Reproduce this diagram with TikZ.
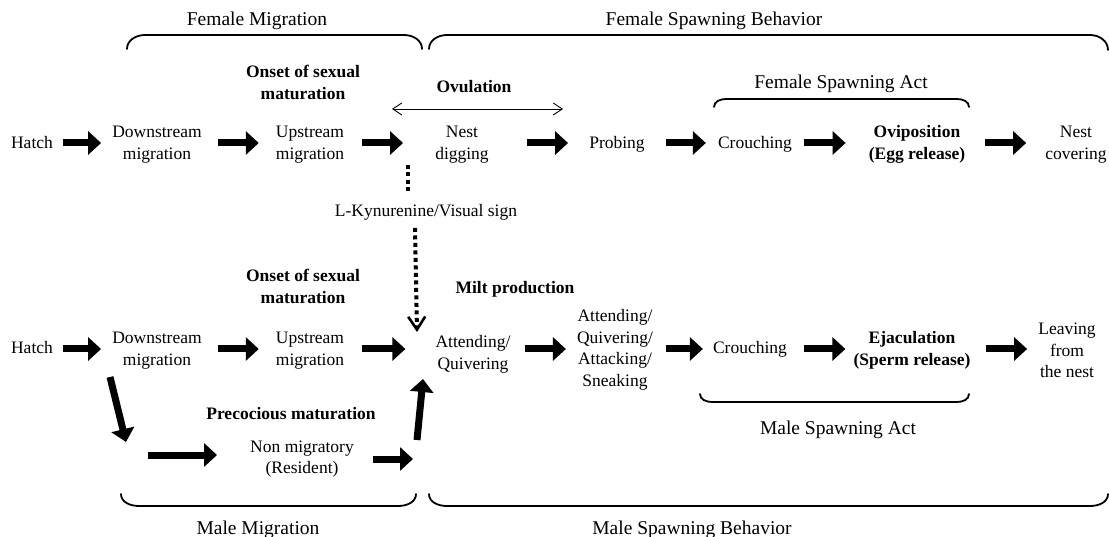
\documentclass[tikz,border=0pt]{standalone}
\usepackage{fontspec}
\setmainfont{Liberation Serif}
\usetikzlibrary{arrows.meta}
\newcommand{\mlines}[1]{\begin{tabular}[t]{@{}c@{}}#1\end{tabular}}
\begin{document}
\begin{tikzpicture}[x=1pt,y=-1pt,
  txt/.style={anchor=base,inner sep=0pt,font=\fontsize{17.5}{21.5}\selectfont},
  btxt/.style={anchor=base,inner sep=0pt,font=\fontsize{17.5}{21.5}\selectfont\bfseries},
  lab/.style={anchor=base,inner sep=0pt,font=\fontsize{19.5}{23}\selectfont},
  fat/.style={line width=7pt,-{Triangle[length=13pt,width=23pt]}},
  brace/.style={line width=1.8pt,line cap=round},
  dbl/.style={line width=0.9pt,{Straight Barb[length=9pt,width=12pt]}-{Straight Barb[length=9pt,width=12pt]}},
  dots/.style={line width=4pt,dash pattern=on 4pt off 3.5pt},
]
\useasboundingbox (0,0) rectangle (1109,537);
\coordinate (rF) at (0,143);
\coordinate (rM) at (0,349);

% ---------- brace labels ----------
\node[lab] (lFM) at (257,26) {Female Migration};
\node[lab] (lFSB) at (714,26) {Female Spawning Behavior};
\node[lab] (lFSA) at (841,89) {Female Spawning Act};
\node[lab] (lMSA) at (838,435) {Male Spawning Act};
\node[lab] (lMM) at (258,534) {Male Migration};
\node[lab] (lMSB) at (692,534) {Male Spawning Behavior};

% ---------- braces ----------
\draw[brace] (127,49) to[out=90,in=180] (145,35) -- (404,35) to[out=0,in=90] (422,49);
\draw[brace] (429,49) to[out=90,in=180] (447,35) -- (1090,35) to[out=0,in=90] (1108,50);
\draw[brace] (714,107) to[out=90,in=180] (726,99) -- (957,99) to[out=0,in=90] (969,107);
\draw[brace] (121,494) to[out=-90,in=180] (139,506) -- (398,506) to[out=0,in=-90] (416,494);
\draw[brace] (429,494) to[out=-90,in=180] (447,506) -- (1090,506) to[out=0,in=-90] (1108,494);
\draw[brace] (700,394) to[out=-90,in=180] (712,402) -- (957,402) to[out=0,in=-90] (969,394);

% ---------- female row ----------
\node[txt] (hatchF) at (32,149) {Hatch};
\node[txt] (downF) at (157,138) {\mlines{Downstream\\migration}};
\node[txt] (upF) at (310,138) {\mlines{Upstream\\migration}};
\node[btxt] (onsetF) at (303,78) {\mlines{Onset of sexual\\maturation}};
\node[txt] (nestF) at (462,138) {\mlines{Nest\\digging}};
\node[btxt] (ovul) at (474,93) {Ovulation};
\node[txt] (probe) at (617,149) {Probing};
\node[txt] (crouchF) at (755,149) {Crouching};
\node[btxt] (ovip) at (917,138) {\mlines{Oviposition\\(Egg release)}};
\node[txt] (cover) at (1076,138) {\mlines{Nest\\covering}};
\node[txt] (kyn) at (426,217) {L-Kynurenine/Visual sign};

\draw[fat] ([xshift=10pt]hatchF.east |- rF) -- ([xshift=-11pt]downF.west |- rF);
\draw[fat] ([xshift=16pt]downF.east |- rF) -- ([xshift=-17pt]upF.west |- rF);
\draw[fat] ([xshift=18pt]upF.east |- rF) -- ([xshift=-32pt]nestF.west |- rF);
\draw[fat] ([xshift=38pt]nestF.east |- rF) -- ([xshift=-21pt]probe.west |- rF);
\draw[fat] ([xshift=21pt]probe.east |- rF) -- ([xshift=-12pt]crouchF.west |- rF);
\draw[fat] ([xshift=12pt]crouchF.east |- rF) -- ([xshift=-23pt]ovip.west |- rF);
\draw[fat] ([xshift=20pt]ovip.east |- rF) -- ([xshift=-19pt]cover.west |- rF);

\coordinate (ovA) at (392,109);
\coordinate (ovB) at (563,109);
\draw[dbl] (ovA) -- (ovB);

% ---------- male row ----------
\node[txt] (hatchM) at (32,354) {Hatch};
\node[txt] (downM) at (157,344) {\mlines{Downstream\\migration}};
\node[txt] (upM) at (310,344) {\mlines{Upstream\\migration}};
\node[btxt] (onsetM) at (303,282) {\mlines{Onset of sexual\\maturation}};
\node[btxt] (milt) at (515,294) {Milt production};
\node[txt] (attM) at (473,348) {\mlines{Attending/\\Quivering}};
\node[txt] (att4) at (615,322) {\mlines{Attending/\\Quivering/\\Attacking/\\Sneaking}};
\node[txt] (crouchM) at (750,354) {Crouching};
\node[btxt] (ejac) at (912,344) {\mlines{Ejaculation\\(Sperm release)}};
\node[txt] (leave) at (1067,335) {\mlines{Leaving\\from\\the nest}};
\node[btxt] (prec) at (291,420) {Precocious maturation};
\node[txt] (nonmig) at (302,452) {\mlines{Non migratory\\(Resident)}};

\draw[fat] ([xshift=10pt]hatchM.east |- rM) -- ([xshift=-11pt]downM.west |- rM);
\draw[fat] ([xshift=16pt]downM.east |- rM) -- ([xshift=-17pt]upM.west |- rM);
\draw[fat] ([xshift=18pt]upM.east |- rM) -- ([xshift=-30pt]attM.west |- rM);
\draw[fat] ([xshift=14pt]attM.east |- rM) -- ([xshift=-11pt]att4.west |- rM);
\draw[fat] ([xshift=13pt]att4.east |- rM) -- ([xshift=-10pt]crouchM.west |- rM);
\draw[fat] ([xshift=17pt]crouchM.east |- rM) -- ([xshift=-8pt]ejac.west |- rM);
\draw[fat] ([xshift=15pt]ejac.east |- rM) -- ([xshift=-11pt]leave.west |- rM);

% resident branch
\coordinate (dA) at (110,377);
\coordinate (dB) at (126,442);
\coordinate (hA) at (148,455);
\coordinate (jn) at (413,459);
\coordinate (uA) at (417,440);
\coordinate (uB) at (423,379);
\draw[fat] (dA) -- (dB);
\draw[fat] (hA) -- ([xshift=-33pt]nonmig.west |- hA);
\draw[fat] ([xshift=19pt]nonmig.east |- jn) -- (jn);
\draw[fat] (uA) -- (uB);

% ---------- L-Kynurenine signal ----------
\coordinate (k1) at (408,165);
\coordinate (kt) at (417,332);
\draw[dots] (k1) -- ([yshift=11pt]kyn.north -| k1);
\draw[dots,-{Straight Barb[length=13pt,width=17pt,line width=2.6pt]}] ([yshift=-7pt]kyn.south -| 415,0) -- (kt);
\end{tikzpicture}
\end{document}
